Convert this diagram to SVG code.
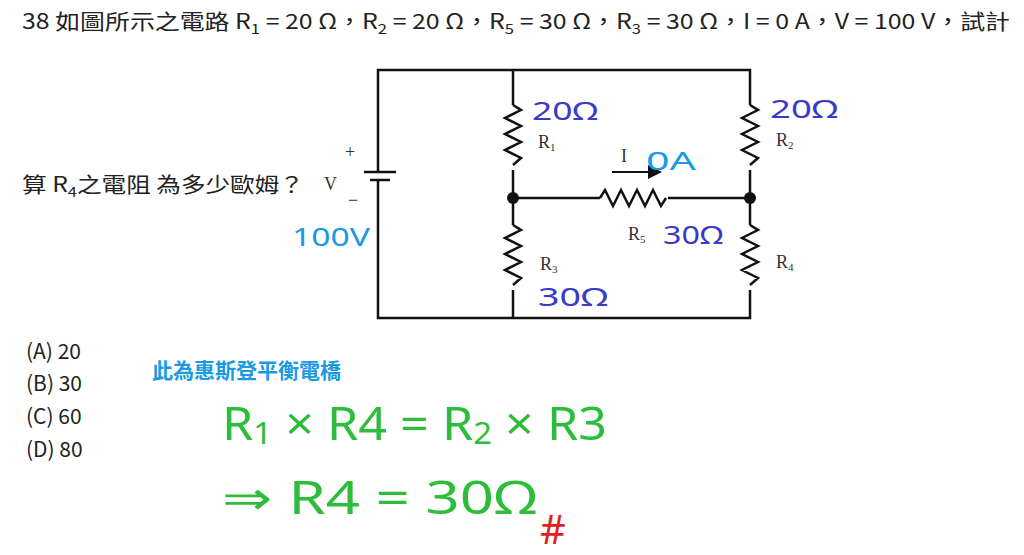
<svg xmlns="http://www.w3.org/2000/svg" width="1024" height="555" viewBox="0 0 1024 555">
<style>
.t{font-family:"Noto Sans CJK TC","Noto Sans",sans-serif;font-size:21px;fill:#222}
.s{font-family:"Liberation Serif",serif;font-size:18px;fill:#333}
.w{fill:none;stroke:#111;stroke-width:2.5}
.b{font-family:"Noto Sans",sans-serif;fill:#3a3ac8;font-size:26px}
.c{fill:#1a9ae0}
.g{font-family:"Noto Sans",sans-serif;fill:#2ebd3a;font-size:46px}
</style>
<rect width="1024" height="555" fill="#fff"/>
<text class="t" x="22" y="29" textLength="988" lengthAdjust="spacingAndGlyphs">38 如圖所示之電路 R<tspan font-size="14" dy="5">1</tspan><tspan dy="-5"> = 20 Ω，R</tspan><tspan font-size="14" dy="5">2</tspan><tspan dy="-5"> = 20 Ω，R</tspan><tspan font-size="14" dy="5">5</tspan><tspan dy="-5"> = 30 Ω，R</tspan><tspan font-size="14" dy="5">3</tspan><tspan dy="-5"> = 30 Ω，I = 0 A，V = 100 V，試計</tspan></text>
<text class="t" x="22" y="192" textLength="282" lengthAdjust="spacingAndGlyphs">算 R<tspan font-size="14" dy="5">4</tspan><tspan dy="-5">之電阻 為多少歐姆？</tspan></text>
<g id="circuit">
<g id="wires" class="w">
<path d="M378 172V70H750V105M378 180V318H750V290M513 70V105M513 170V225M513 290V318M750 170V225M513 198H600M668 198H750"/>
<path d="M513 105l8 5-16 8 16 8-16 8 16 8-16 8 16 8-8 7M513 225l8 5-16 8 16 8-16 8 16 8-16 8 16 8-8 7M750 105l8 5-16 8 16 8-16 8 16 8-16 8 16 8-8 7M750 225l8 5-16 8 16 8-16 8 16 8-16 8 16 8-8 7M600 198l5-8 8 16 8-16 8 16 8-16 8 16 8-16 8 16 5-8"/>
<path d="M364 172H396M370 180H390"/>
<path d="M612 172H650" stroke-width="2"/>
</g>
<path d="M648 165L662 172 648 179Z" fill="#111"/>
<circle cx="513" cy="198" r="6" fill="#111"/><circle cx="750" cy="198" r="6" fill="#111"/>
<text class="s" x="345" y="158" font-size="20">+</text><text class="s" x="348" y="206" font-size="20">−</text>
<text class="s" x="324" y="190" font-size="20">V</text>
<text class="s" x="538" y="148">R<tspan font-size="11" dy="3">1</tspan></text>
<text class="s" x="776" y="146">R<tspan font-size="11" dy="3">2</tspan></text>
<text class="s" x="540" y="270">R<tspan font-size="11" dy="3">3</tspan></text>
<text class="s" x="776" y="268">R<tspan font-size="11" dy="3">4</tspan></text>
<text class="s" x="628" y="240">R<tspan font-size="11" dy="3">5</tspan></text>
<text class="s" x="621" y="162">I</text>
</g>
<g id="notes">
<text class="b" x="532" y="120" textLength="66" lengthAdjust="spacingAndGlyphs">20Ω</text>
<text class="b" x="770" y="118" textLength="68" lengthAdjust="spacingAndGlyphs">20Ω</text>
<text class="b" x="663" y="244" textLength="60" lengthAdjust="spacingAndGlyphs">30Ω</text>
<text class="b" x="538" y="306" textLength="70" lengthAdjust="spacingAndGlyphs">30Ω</text>
<text class="b c" x="646" y="170" font-size="40" textLength="50" lengthAdjust="spacingAndGlyphs">0A</text>
<text class="b c" x="292" y="246" font-size="30" textLength="78" lengthAdjust="spacingAndGlyphs">100V</text>
<text class="t" x="152" y="378" font-weight="bold" style="fill:#1a9ae0">此為惠斯登平衡電橋</text>
<text class="g" x="222" y="440" textLength="385" lengthAdjust="spacingAndGlyphs">R<tspan font-size="30" dy="4">1</tspan><tspan dy="-4"> × R4 = R</tspan><tspan font-size="30" dy="4">2</tspan><tspan dy="-4"> × R3</tspan></text>
<text class="g" x="222" y="514" textLength="315" lengthAdjust="spacingAndGlyphs">⇒ R4 = 30Ω</text>
<text x="540" y="544" font-family="Noto Sans,sans-serif" font-size="40" fill="#e02020">#</text>
</g>
<g id="options" class="t" font-size="22">
<text x="26" y="359">(A) 20</text><text x="26" y="391">(B) 30</text><text x="26" y="424">(C) 60</text><text x="26" y="457">(D) 80</text>
</g>
</svg>
